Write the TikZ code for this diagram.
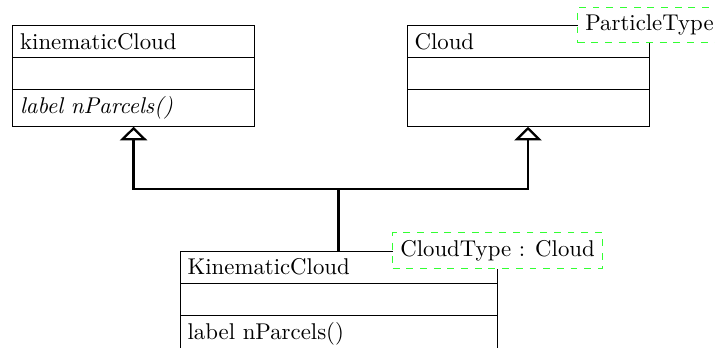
\documentclass[tikz,border=0pt]{standalone}
\usepackage{tikz}
\usetikzlibrary{positioning,arrows.meta,shapes.multipart,calc}
\newcommand{\rowa}[1]{\rule[-3.5pt]{0pt}{13.6pt}#1}
\newcommand{\rowb}[1]{\rule[-5.3pt]{0pt}{15.8pt}#1}

\begin{document}
\begin{tikzpicture}[
  umlclass/.style={draw, thin, rectangle split, rectangle split parts=3, align=left, inner ysep=0pt, inner xsep=3.33pt, text width=99.5pt},
  wideclass/.style={umlclass, text width=132.4pt},
  tmpl/.style={draw=green!80, fill=white, dashed, thin},
  inherit/.style={-{Triangle[open, length=6pt, width=12pt]}, line width=1pt}
]
\useasboundingbox (0,0) rectangle (313.6pt,-152.2pt);

\node[umlclass, anchor=north west] (kinematicCloud) at (5.3pt,-11pt)
  {\rowa{kinematicCloud}
   \nodepart{two}\rowa{}
   \nodepart{three}\rowb{\textit{label nParcels()}}};
\node[umlclass, anchor=north west] (Cloud) at (178.3pt,-11pt)
  {\rowa{Cloud}
   \nodepart{two}\rowa{}
   \nodepart{three}\rowb{}};
\node[tmpl] (ParticleType) at (Cloud.north east) {ParticleType};

\node[wideclass, anchor=north] (KinematicCloud) at (148.5pt,-110pt)
  {\rowa{KinematicCloud}
   \nodepart{two}\rowa{}
   \nodepart{three}\rowb{label nParcels()}};
\node[tmpl] (CloudType) at (KinematicCloud.north east) {CloudType : Cloud};

% inheritance
\coordinate (mid) at ($(KinematicCloud.north)!0.5!(kinematicCloud.south)$);
\draw[inherit] (KinematicCloud.north) |- (mid) -| (kinematicCloud.south);
\draw[inherit] (KinematicCloud.north) |- (mid) -| (Cloud.south);
\end{tikzpicture}
\end{document}
